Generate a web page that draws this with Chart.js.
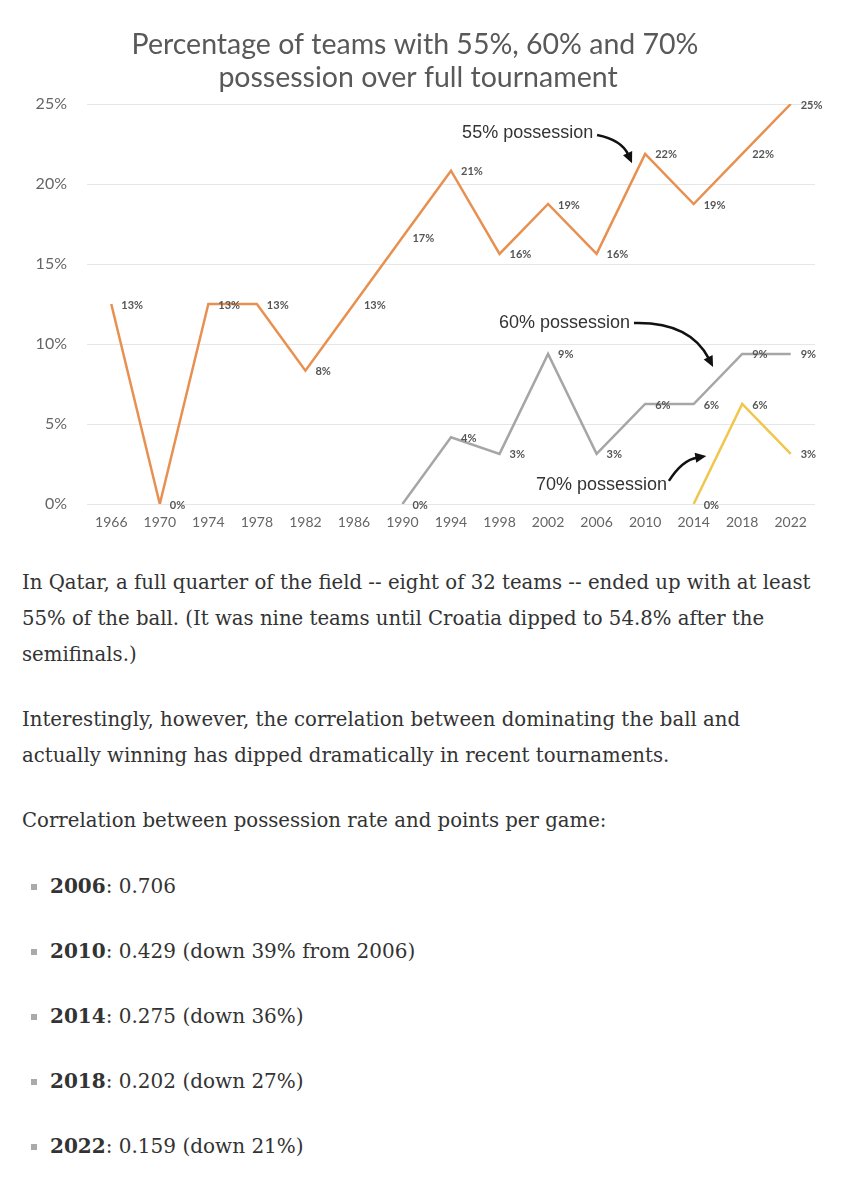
<!DOCTYPE html>
<html>
<head>
<meta charset="utf-8">
<script src="https://cdn.jsdelivr.net/npm/chart.js@4"></script>
<style>
  html, body { margin: 0; padding: 0; background: #fff; }
  #wrap { width: 867px; height: 540px; position: relative; }
  .txt { padding-left: 22px; margin-top: 25px; font-family: "DejaVu Serif", Georgia, serif; font-size: 19.7px; color: #333; }
  .txt p { margin: 0 0 29px 0; line-height: 36px; white-space: nowrap; }
  .txt ul { list-style: none; margin: 0; padding: 0; font-size: 20px; }
  .txt li { line-height: 36px; margin: 0 0 29px 0; position: relative; padding-left: 28px; }
  .txt li::before { content: ""; position: absolute; left: 9px; top: 16px; width: 6px; height: 6px; background: #aaa; }
  .txt b { color: #333; }
</style>
</head>
<body>
<div id="wrap"><canvas id="c" width="867" height="540"></canvas></div>
<div class="txt">
  <p>In Qatar, a full quarter of the field -- eight of 32 teams -- ended up with at least<br>55% of the ball. (It was nine teams until Croatia dipped to 54.8% after the<br>semifinals.)</p>
  <p>Interestingly, however, the correlation between dominating the ball and<br>actually winning has dipped dramatically in recent tournaments.</p>
  <p>Correlation between possession rate and points per game:</p>
  <ul>
    <li><b>2006</b>: 0.706</li>
    <li><b>2010</b>: 0.429 (down 39% from 2006)</li>
    <li><b>2014</b>: 0.275 (down 36%)</li>
    <li><b>2018</b>: 0.202 (down 27%)</li>
    <li><b>2022</b>: 0.159 (down 21%)</li>
  </ul>
</div>
<script>
const years = ['1966','1970','1974','1978','1982','1986','1990','1994','1998','2002','2006','2010','2014','2018','2022'];
const pct55 = [12.5, 0, 12.5, 12.5, 8.33, 12.5, 16.67, 20.83, 15.63, 18.75, 15.63, 21.88, 18.75, 21.88, 25];
const pct60 = [null, null, null, null, null, null, 0, 4.17, 3.13, 9.38, 3.13, 6.25, 6.25, 9.38, 9.38];
const pct70 = [null, null, null, null, null, null, null, null, null, null, null, null, 0, 6.25, 3.13];
const seriesNames = ['55% possession', '60% possession', '70% possession'];
const titleLines = ['Percentage of teams with 55%, 60% and 70%', 'possession over full tournament'];

Chart.defaults.font.family = 'Lato, "Open Sans", sans-serif';

function xAt(chart, f) {
  const s = chart.scales.x;
  const step = (s.right - s.left) / years.length;
  return s.left + (f + 0.5) * step;
}
function yAt(chart, v) { return chart.scales.y.getPixelForValue(v); }

const titlePlugin = {
  id: 'customTitle',
  afterDraw(chart) {
    const ctx = chart.ctx;
    ctx.save();
    ctx.fillStyle = '#595959';
    ctx.font = '28.5px Lato, "Open Sans", sans-serif';
    ctx.textAlign = 'center';
    ctx.textBaseline = 'middle';
    ctx.fillText(titleLines[0], 415, 45);
    ctx.fillText(titleLines[1], 418, 78);
    ctx.restore();
  }
};

const labelPlugin = {
  id: 'pointLabels',
  afterDatasetsDraw(chart) {
    const ctx = chart.ctx;
    ctx.save();
    ctx.font = 'bold 11px Lato, "Open Sans", sans-serif';
    ctx.fillStyle = '#555';
    ctx.textAlign = 'left';
    ctx.textBaseline = 'middle';
    chart.data.datasets.forEach((ds, di) => {
      const meta = chart.getDatasetMeta(di);
      meta.data.forEach((pt, i) => {
        const v = ds.data[i];
        if (v === null || v === undefined) return;
        ctx.fillText(Math.round(v) + '%', pt.x + 10, pt.y + 1);
      });
    });
    ctx.restore();
  }
};

const annotationPlugin = {
  id: 'arrowNotes',
  afterDraw(chart) {
    const ctx = chart.ctx;
    const notes = [
      { text: seriesNames[0], t: [9.93, 23.19], a: [10.01, 23.06], c: [10.52, 22.75], b: [10.73, 21.3] },
      { text: seriesNames[1], t: [10.69, 11.31], a: [10.77, 11.31], c: [11.93, 11.4], b: [12.4, 8.56] },
      { text: seriesNames[2], t: [11.45, 1.19], a: [11.49, 1.44], c: [11.76, 2.75], b: [12.26, 3.0] }
    ];
    ctx.save();
    notes.forEach(n => {
      ctx.font = '18px "Liberation Sans", Arial, sans-serif';
      ctx.fillStyle = '#333';
      ctx.textAlign = 'right';
      ctx.textBaseline = 'middle';
      ctx.fillText(n.text, xAt(chart, n.t[0]), yAt(chart, n.t[1]));
      const ax = xAt(chart, n.a[0]), ay = yAt(chart, n.a[1]);
      const cx = xAt(chart, n.c[0]), cy = yAt(chart, n.c[1]);
      const bx = xAt(chart, n.b[0]), by = yAt(chart, n.b[1]);
      const ang = Math.atan2(by - cy, bx - cx);
      const L = 11, W = 5;
      const ex = bx - Math.cos(ang) * L * 0.8, ey = by - Math.sin(ang) * L * 0.8;
      ctx.strokeStyle = '#111';
      ctx.lineWidth = 2.5;
      ctx.beginPath();
      ctx.moveTo(ax, ay);
      ctx.quadraticCurveTo(cx, cy, ex, ey);
      ctx.stroke();
      ctx.fillStyle = '#111';
      ctx.beginPath();
      ctx.moveTo(bx, by);
      ctx.lineTo(bx - Math.cos(ang) * L - Math.sin(ang) * W, by - Math.sin(ang) * L + Math.cos(ang) * W);
      ctx.lineTo(bx - Math.cos(ang) * L + Math.sin(ang) * W, by - Math.sin(ang) * L - Math.cos(ang) * W);
      ctx.closePath();
      ctx.fill();
    });
    ctx.restore();
  }
};

new Chart(document.getElementById('c'), {
  type: 'line',
  data: {
    labels: years,
    datasets: [
      { label: seriesNames[0], data: pct55, borderColor: '#E8904F', borderWidth: 2.5, pointRadius: 0, tension: 0, fill: false },
      { label: seriesNames[1], data: pct60, borderColor: '#A6A6A6', borderWidth: 2.5, pointRadius: 0, tension: 0, fill: false },
      { label: seriesNames[2], data: pct70, borderColor: '#F1C64C', borderWidth: 2.5, pointRadius: 0, tension: 0, fill: false }
    ]
  },
  options: {
    responsive: false,
    animation: false,
    layout: { padding: { left: 0, right: 52, top: 104, bottom: 0 } },
    plugins: { legend: { display: false }, title: { display: false }, tooltip: { enabled: false } },
    scales: {
      x: {
        offset: true,
        grid: { display: false, drawTicks: false },
        border: { display: false },
        ticks: { color: '#666', font: { size: 14 }, padding: 10, maxRotation: 0, autoSkip: false },
        afterFit(s) { s.height = 36; }
      },
      y: {
        min: 0, max: 25,
        grid: { color: '#E6E6E6', lineWidth: 1, drawTicks: false },
        border: { display: false },
        ticks: { stepSize: 5, color: '#666', font: { size: 16 }, padding: 20, callback: v => v + '%' },
        afterFit(s) { s.width = 87; }
      }
    }
  },
  plugins: [titlePlugin, labelPlugin, annotationPlugin]
});
</script>
</body>
</html>
